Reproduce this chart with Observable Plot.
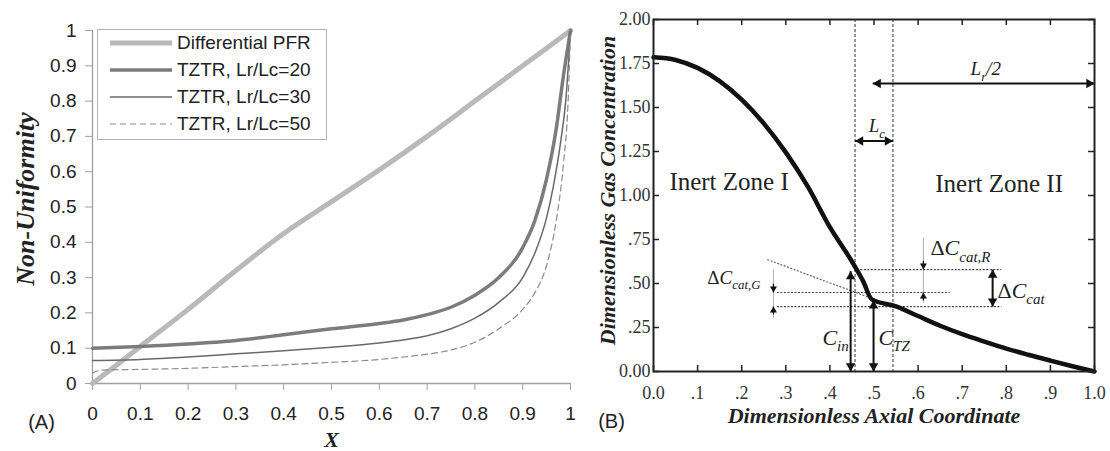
<!DOCTYPE html>
<html><head><meta charset="utf-8">
<script src="https://cdn.jsdelivr.net/npm/d3@7"></script>
<script src="https://cdn.jsdelivr.net/npm/@observablehq/plot@0.6"></script>
<style>
body{margin:0;background:#fff;}
#wrap{position:relative;width:1110px;height:451px;overflow:hidden;background:#fff;}
#a,#b{position:absolute;top:0;}
#a{left:0;} #b{left:560px;}
.legend{position:absolute;left:97px;top:29px;width:230px;height:111px;border:1px solid #b4b4b4;background:#fff;
  font-family:"Liberation Sans",Arial,sans-serif;font-size:19px;color:#222;box-sizing:border-box;}
.legend .row{position:absolute;left:12px;height:20px;display:flex;align-items:center;}
.legend svg{margin-right:5px;}
</style></head>
<body><div id="wrap"><div id="a"></div><div id="b"></div></div>
<script>
// ---------- Panel A data ----------
const aTicks = [0, 0.1, 0.2, 0.3, 0.4, 0.5, 0.6, 0.7, 0.8, 0.9, 1];
const seriesNames = ["Differential PFR", "TZTR, Lr/Lc=20", "TZTR, Lr/Lc=30", "TZTR, Lr/Lc=50"];
const pfrX  = [0, 0.05, 0.1, 0.2, 0.3, 0.4, 0.5, 0.6, 0.7, 0.8, 0.9, 1.0];
const pfrY  = [0, 0.052, 0.105, 0.21, 0.32, 0.425, 0.515, 0.605, 0.70, 0.80, 0.90, 1.0];
const tz20X = [0, 0.1, 0.2, 0.3, 0.4, 0.5, 0.6, 0.65, 0.7, 0.75, 0.8, 0.85, 0.9, 0.925, 0.95, 0.97, 0.985, 1.0];
const tz20Y = [0.10, 0.105, 0.112, 0.122, 0.138, 0.155, 0.17, 0.18, 0.195, 0.216, 0.25, 0.30, 0.385, 0.46, 0.58, 0.72, 0.87, 1.0];
const tz30X = [0, 0.1, 0.2, 0.3, 0.4, 0.5, 0.6, 0.65, 0.7, 0.75, 0.8, 0.85, 0.9, 0.93, 0.95, 0.965, 0.98, 0.99, 1.0];
const tz30Y = [0.065, 0.068, 0.075, 0.084, 0.093, 0.103, 0.115, 0.123, 0.135, 0.155, 0.185, 0.23, 0.30, 0.385, 0.47, 0.565, 0.69, 0.80, 1.0];
const tz50X = [0, 0.02, 0.1, 0.2, 0.3, 0.4, 0.5, 0.6, 0.65, 0.7, 0.75, 0.8, 0.85, 0.9, 0.925, 0.95, 0.97, 0.985, 0.995, 1.0];
const tz50Y = [0.03, 0.038, 0.04, 0.043, 0.048, 0.053, 0.06, 0.068, 0.075, 0.083, 0.095, 0.117, 0.155, 0.21, 0.256, 0.335, 0.46, 0.62, 0.80, 1.0];

// ---------- Panel B data ----------
const bxTicks  = [0, 0.1, 0.2, 0.3, 0.4, 0.5, 0.6, 0.7, 0.8, 0.9, 1.0];
const bxLabels = ["0.0", ".1", ".2", ".3", ".4", ".5", ".6", ".7", ".8", ".9", "1.0"];
const byTicks  = [0, 0.25, 0.5, 0.75, 1, 1.25, 1.5, 1.75, 2];
const byLabels = ["0.00", ".25", ".50", ".75", "1.00", "1.25", "1.50", "1.75", "2.00"];
const axialX = [0, 0.05, 0.1, 0.15, 0.2, 0.25, 0.3, 0.35, 0.4, 0.45, 0.475, 0.495, 0.55, 0.6, 0.65, 0.7, 0.75, 0.8, 0.85, 0.9, 0.95, 1.0];
const concY  = [1.785, 1.77, 1.725, 1.65, 1.545, 1.41, 1.245, 1.05, 0.82, 0.625, 0.515, 0.41, 0.37, 0.315, 0.26, 0.212, 0.17, 0.13, 0.095, 0.062, 0.03, 0];
const catBounds = [0.457, 0.543];
const levelLines = [
  {y: 0.579, x1: 0.47,  x2: 0.79},
  {y: 0.449, x1: 0.281, x2: 0.673},
  {y: 0.369, x1: 0.281, x2: 0.79}
];
const tangent = [{x1: 0.258, y1: 0.636, x2: 0.495, y2: 0.415}];
const dimArrows = [
  {x1: 0.447, y1: 0,     x2: 0.447, y2: 0.57},
  {x1: 0.499, y1: 0,     x2: 0.499, y2: 0.405},
  {x1: 0.769, y1: 0.369, x2: 0.769, y2: 0.579},
  {x1: 0.497, y1: 1.636, x2: 1.0,   y2: 1.636},
  {x1: 0.457, y1: 1.31,  x2: 0.543, y2: 1.31}
];
const gapArrows = [
  {x: 0.272, top: 0.58, bottom: 0.305, hi: 0.449, lo: 0.369},
  {x: 0.612, top: 0.76, bottom: 0.39,  hi: 0.579, lo: 0.449}
];
const zoneLabels = [
  {x: 0.036, y: 1.074, text: "Inert Zone I"},
  {x: 0.639, y: 1.068, text: "Inert Zone II"}
];
const bigMath = [
  {x: 0.383, y: 0.193, text: "C|in"},
  {x: 0.51,  y: 0.193, text: "C|TZ"},
  {x: 0.628, y: 0.70,  text: "ΔC|cat,R"},
  {x: 0.78,  y: 0.46,  text: "ΔC|cat"}
];
const smallMath = [
  {x: 0.122, y: 0.534, text: "ΔC|cat,G"},
  {x: 0.719, y: 1.72,  text: "L|r|/2"},
  {x: 0.488, y: 1.396, text: "L|c"}
];

// ---------- helpers ----------
const rows = (xs, ys) => xs.map((x, i) => ({x, y: ys[i]}));
const serif = "Liberation Serif, Times New Roman, serif";
const sans = "Liberation Sans, Arial, sans-serif";

// ---------- Panel A ----------
const styles = [
  {stroke: "#b9b9b9", strokeWidth: 5},
  {stroke: "#7c7c7c", strokeWidth: 3.5},
  {stroke: "#696969", strokeWidth: 1.5},
  {stroke: "#8c8c8c", strokeWidth: 1.2, strokeDasharray: "6,4"}
];
const seriesData = [rows(pfrX, pfrY), rows(tz20X, tz20Y), rows(tz30X, tz30Y), rows(tz50X, tz50Y)];

const A = Plot.plot({
  width: 580, height: 451,
  marginLeft: 92, marginRight: 10, marginTop: 30, marginBottom: 68,
  x: {domain: [0, 1]}, y: {domain: [0, 1]},
  style: {background: "transparent", overflow: "visible", fontFamily: sans},
  marks: [
    Plot.ruleY([0], {stroke: "#a0a0a0", strokeWidth: 1.3}),
    Plot.ruleX([0], {stroke: "#a0a0a0", strokeWidth: 1.3}),
    Plot.axisX({ticks: aTicks, tickSize: 7, tickPadding: 16, fontSize: 19, stroke: "#a0a0a0", fill: "#222", tickFormat: d => String(d), label: null}),
    Plot.axisY({ticks: aTicks, tickSize: 7, tickPadding: 9, fontSize: 19, stroke: "#a0a0a0", fill: "#222", tickFormat: d => String(d), label: null}),
    ...seriesData.map((d, i) => Plot.line(d, {x: "x", y: "y", curve: "monotone-x", ...styles[i]})),
    Plot.text(["Non-Uniformity"], {frameAnchor: "left", textAnchor: "middle", dx: -67, dy: -8, rotate: -90, fontFamily: serif, fontWeight: "bold", fontStyle: "italic", fontSize: 26, fill: "#222"}),
    Plot.text(["X"], {frameAnchor: "bottom", dy: 63, fontFamily: serif, fontWeight: "bold", fontStyle: "italic", fontSize: 22, fill: "#222"}),
    Plot.text(["(A)"], {frameAnchor: "bottom-left", textAnchor: "middle", dx: -51, dy: 45, fontFamily: sans, fontSize: 20, fill: "#222"})
  ]
});
document.getElementById("a").appendChild(A);

// legend
const leg = document.createElement("div");
leg.className = "legend";
seriesNames.forEach((name, i) => {
  const r = document.createElement("div");
  r.className = "row";
  r.style.top = (3 + i * 27) + "px";
  const s = styles[i];
  r.innerHTML = `<svg width="62" height="10"><line x1="0" x2="62" y1="5" y2="5" stroke="${s.stroke}" stroke-width="${s.strokeWidth}" ${s.strokeDasharray ? `stroke-dasharray="${s.strokeDasharray}"` : ""}/></svg><span>${name}</span>`;
  leg.appendChild(r);
});
document.getElementById("a").appendChild(leg);

// ---------- Panel B ----------
const bW = 550, bH = 451, bML = 93, bMR = 16, bMT = 19, bMB = 80;
const bxMap = new Map(bxTicks.map((t, i) => [t, bxLabels[i]]));
const byMap = new Map(byTicks.map((t, i) => [t, byLabels[i]]));
const tickPx = 6;
const tyLen = tickPx * 2 / (bH - bMT - bMB);
const txLen = tickPx * 1 / (bW - bML - bMR);
const vArrows = dimArrows.filter(a => a.x1 === a.x2);
const hArrows = dimArrows.filter(a => a.y1 === a.y2);
const bigR = 3.5, smallR = 2.6, tip = r => 1.555 * r;
const head = (data, rot, r, off) => Plot.dot(data, {x: "x", y: "y", symbol: "triangle", rotate: rot, r, fill: "#111", stroke: "none", ...off});
const tickStyle = {stroke: "#222", strokeWidth: 1.5};

const B = Plot.plot({
  width: bW, height: bH,
  marginLeft: bML, marginRight: bMR, marginTop: bMT, marginBottom: bMB,
  x: {domain: [0, 1]}, y: {domain: [0, 2]},
  style: {background: "transparent", overflow: "visible", fontFamily: serif},
  marks: [
    Plot.ruleX(catBounds, {stroke: "#333", strokeWidth: 1, strokeDasharray: "3,2"}),
    Plot.ruleY(levelLines, {y: "y", x1: "x1", x2: "x2", stroke: "#444", strokeWidth: 1.2, strokeDasharray: "2,1.5"}),
    Plot.link(tangent, {x1: "x1", y1: "y1", x2: "x2", y2: "y2", stroke: "#666", strokeWidth: 1.2, strokeDasharray: "2,1.5"}),
    Plot.line(rows(axialX, concY), {x: "x", y: "y", curve: "monotone-x", stroke: "#111", strokeWidth: 4.5}),
    Plot.link(dimArrows, {x1: "x1", y1: "y1", x2: "x2", y2: "y2", stroke: "#111", strokeWidth: 2}),
    head(vArrows.map(a => ({x: a.x1, y: Math.min(a.y1, a.y2)})), 180, bigR, {dy: -tip(bigR)}),
    head(vArrows.map(a => ({x: a.x1, y: Math.max(a.y1, a.y2)})), 0, bigR, {dy: tip(bigR)}),
    head(hArrows.map(a => ({x: Math.min(a.x1, a.x2), y: a.y1})), -90, bigR, {dx: tip(bigR)}),
    head(hArrows.map(a => ({x: Math.max(a.x1, a.x2), y: a.y1})), 90, bigR, {dx: -tip(bigR)}),
    Plot.link(gapArrows, {x1: "x", x2: "x", y1: "bottom", y2: "top", stroke: "#b0b0b0", strokeWidth: 1}),
    Plot.link(gapArrows, {x1: "x", x2: "x", y1: d => d.hi + 0.05, y2: "hi", stroke: "#111", strokeWidth: 1.3}),
    Plot.link(gapArrows, {x1: "x", x2: "x", y1: d => d.lo - 0.045, y2: "lo", stroke: "#111", strokeWidth: 1.3}),
    head(gapArrows.map(a => ({x: a.x, y: a.hi})), 180, smallR, {dy: -tip(smallR)}),
    head(gapArrows.map(a => ({x: a.x, y: a.lo})), 0, smallR, {dy: tip(smallR)}),
    Plot.ruleX(bxTicks, {x: d => d, y1: 0, y2: tyLen, ...tickStyle}),
    Plot.ruleX(bxTicks, {x: d => d, y1: 2, y2: 2 - tyLen, ...tickStyle}),
    Plot.ruleY(byTicks, {y: d => d, x1: 0, x2: txLen, ...tickStyle}),
    Plot.ruleY(byTicks, {y: d => d, x1: 1, x2: 1 - txLen, ...tickStyle}),
    Plot.frame({stroke: "#222", strokeWidth: 2}),
    Plot.axisX({ticks: bxTicks, tickSize: 0, tickPadding: 15, fontSize: 18, fill: "#333", tickFormat: d => bxMap.get(d), label: null}),
    Plot.axisY({ticks: byTicks, tickSize: 0, tickPadding: 3, fontSize: 18, fill: "#333", tickFormat: d => byMap.get(d), label: null}),
    Plot.text(zoneLabels, {x: "x", y: "y", text: "text", textAnchor: "start", fontSize: 25, fill: "#222"}),
    Plot.text(bigMath, {x: "x", y: "y", text: "text", textAnchor: "start", fontSize: 22, fontStyle: "italic", fill: "#222"}),
    Plot.text(smallMath, {x: "x", y: "y", text: "text", textAnchor: "start", fontSize: 19, fontStyle: "italic", fill: "#222"}),
    Plot.text(["Dimensionless Axial Coordinate"], {frameAnchor: "bottom", dy: 51, fontWeight: "bold", fontStyle: "italic", fontSize: 22, fill: "#222"}),
    Plot.text(["Dimensionless Gas Concentration"], {frameAnchor: "left", textAnchor: "middle", dx: -46, dy: -5, rotate: -90, fontWeight: "bold", fontStyle: "italic", fontSize: 22, fill: "#222"}),
    Plot.text(["(B)"], {frameAnchor: "bottom-left", textAnchor: "middle", dx: -42, dy: 56, fontFamily: sans, fontSize: 20, fill: "#222"})
  ]
});
document.getElementById("b").appendChild(B);

// subscripts: "main|sub|main..."
function richify(svg) {
  const NS = "http://www.w3.org/2000/svg";
  svg.querySelectorAll("text").forEach(t => {
    const s = t.textContent;
    if (!s.includes("|")) return;
    const fs = parseFloat(getComputedStyle(t).fontSize) || 20;
    t.textContent = "";
    let shifted = false;
    const add = (txt, attrs) => {
      const ts = document.createElementNS(NS, "tspan");
      ts.textContent = txt;
      for (const k in attrs) ts.setAttribute(k, attrs[k]);
      t.appendChild(ts);
    };
    s.split("|").forEach((p, i) => {
      if (!p) return;
      if (i % 2 === 1) {
        add(p, {"font-size": (fs * 0.68).toFixed(1), dy: (fs * 0.3).toFixed(1)});
        shifted = true;
      } else {
        const attrs = shifted ? {dy: (-fs * 0.3).toFixed(1)} : {};
        shifted = false;
        if (p.startsWith("Δ")) {
          add("Δ", {...attrs, "font-style": "normal"});
          add(p.slice(1), {});
        } else add(p, attrs);
      }
    });
  });
}
richify(B);
</script>
</body></html>
